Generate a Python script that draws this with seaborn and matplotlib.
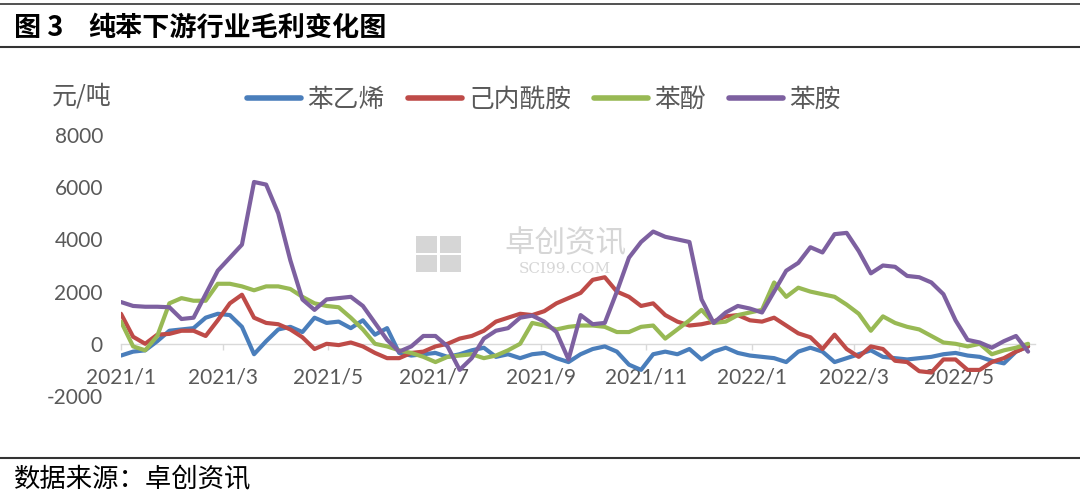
import numpy as np
import pandas as pd
import matplotlib
matplotlib.use("Agg")
import matplotlib.pyplot as plt
from matplotlib.lines import Line2D
from matplotlib.patches import Rectangle
import seaborn as sns

# ---------------- data (weekly readings, 元/吨) ----------------
dates = pd.date_range("2021-01-01", periods=76, freq="7D")

styrene = [-450, -300, -250, 100, 500, 550, 600, 1000, 1150, 1100,
           650, -400, 100, 550, 650, 450, 1000, 800, 850, 600,
           900, 350, 600, -350, -450, -400, -350, -500, -400, -250,
           -150, -500, -400, -550, -400, -350, -550, -700, -400, -200,
           -100, -300, -800, -1000, -400, -300, -400, -200, -600, -300,
           -150, -350, -450, -500, -550, -700, -300, -150, -300, -700,
           -550, -400, -250, -500, -550, -600, -550, -500, -400, -350,
           -450, -500, -650, -750, -300, -100]

caprolactam = [1150, 270, 0, 350, 380, 500, 500, 300, 900, 1550,
               1880, 1000, 800, 750, 550, 250, -200, 0, -50, 50,
               -100, -350, -550, -550, -350, -300, -100, 0, 200, 300,
               500, 850, 1000, 1150, 1100, 1250, 1550, 1750, 1950, 2450,
               2550, 2000, 1800, 1450, 1550, 1100, 850, 700, 750, 850,
               1050, 1100, 900, 850, 1000, 700, 400, 250, -200, 350,
               -200, -500, -100, -200, -650, -700, -1050, -1100, -600, -600,
               -1000, -1000, -700, -550, -300, -100]

phenol = [850, -100, -250, 300, 1550, 1750, 1650, 1650, 2300, 2300,
          2200, 2050, 2200, 2200, 2100, 1800, 1550, 1450, 1400, 1000,
          550, 0, -100, -250, -350, -500, -700, -500, -450, -400,
          -550, -450, -250, 0, 800, 700, 550, 650, 700, 700,
          650, 450, 450, 650, 700, 200, 550, 900, 1300, 800,
          850, 1100, 1200, 1300, 2350, 1800, 2150, 2000, 1900, 1800,
          1500, 1150, 500, 1050, 800, 650, 550, 300, 50, 0,
          -100, 0, -400, -250, -150, 0]

aniline = [1600, 1450, 1420, 1420, 1400, 950, 1000, 1900, 2800, 3300,
           3800, 6200, 6100, 5000, 3200, 1700, 1300, 1700, 1750, 1800,
           1450, 800, 150, -300, -100, 300, 300, -100, -1000, -550,
           200, 500, 600, 1000, 1080, 850, 450, -600, 1100, 750,
           800, 2000, 3300, 3900, 4300, 4100, 4000, 3900, 1700, 800,
           1200, 1450, 1350, 1200, 2000, 2800, 3100, 3700, 3500, 4200,
           4250, 3550, 2700, 3000, 2950, 2600, 2550, 2350, 1900, 900,
           150, 50, -150, 100, 300, -300]

series_names = ["苯乙烯", "己内酰胺", "苯酚", "苯胺"]
series_colors = ["#4A7EBB", "#BE4B48", "#98B954", "#7D60A0"]

y_ticks = [-2000, 0, 2000, 4000, 6000, 8000]
x_tick_dates = pd.to_datetime(["2021-01-01", "2021-03-01", "2021-05-01", "2021-07-01",
                               "2021-09-01", "2021-11-01", "2022-01-01", "2022-03-01",
                               "2022-05-01"])
x_tick_labels = ["2021/1", "2021/3", "2021/5", "2021/7", "2021/9",
                 "2021/11", "2022/1", "2022/3", "2022/5"]

title_no = "图 3"
title_text = "纯苯下游行业毛利变化图"
unit_text = "元/吨"
source_text = "数据来源：卓创资讯"

# ---------------- style ----------------
sns.set_theme(style="white")
plt.rcParams["font.family"] = ["Lato", "Noto Sans CJK SC", "DejaVu Sans"]
plt.rcParams["axes.unicode_minus"] = False

df = pd.concat([
    pd.DataFrame({"date": dates, "value": vals, "series": name})
    for name, vals in zip(series_names, [styrene, caprolactam, phenol, aniline])
], ignore_index=True)

W, H = 1080, 496
fig = plt.figure(figsize=(W / 100, H / 100), dpi=100)
fig.patch.set_facecolor("white")

ax_left, ax_right, ax_top, ax_bottom = 121, 1035, 135, 396
ax = fig.add_axes([ax_left / W, 1 - ax_bottom / H, (ax_right - ax_left) / W, (ax_bottom - ax_top) / H])
ax.set_facecolor("none")

sns.lineplot(data=df, x="date", y="value", hue="series", hue_order=series_names,
             palette=series_colors, linewidth=3.0, legend=False, ax=ax, zorder=3)
for ln in ax.get_lines():
    ln.set_solid_joinstyle("round")
    ln.set_solid_capstyle("round")

ax.set_ylim(-2000, 8000)
ax.set_xlim(pd.Timestamp("2021-01-01"), pd.Timestamp("2022-06-14"))
ax.set_xlabel("")
ax.set_ylabel("")
ax.grid(False)

for s in ["top", "right", "left"]:
    ax.spines[s].set_visible(False)
ax.spines["bottom"].set_position(("data", 0))
ax.spines["bottom"].set_color("#d9d9d9")
ax.spines["bottom"].set_linewidth(1.0)
ax.spines["bottom"].set_zorder(1)

ax.set_yticks(y_ticks)
ax.set_yticklabels([str(v) for v in y_ticks])
ax.set_xticks(x_tick_dates)
ax.set_xticklabels(x_tick_labels)
ax.tick_params(axis="y", length=0, pad=13, labelsize=15, labelcolor="#595959")
ax.tick_params(axis="x", direction="out", length=4, width=1, color="#d9d9d9",
               pad=13, labelsize=15, labelcolor="#595959", bottom=True)

# watermark (behind lines)
wm_color = "#d6d6d6"
ax.text(565 / W, 1 - 244 / H, "卓创资讯", transform=fig.transFigure, ha="center", va="center",
        fontsize=22, color=wm_color, family=["Noto Sans CJK SC"], zorder=0.5)
ax.text(565 / W, 1 - 269 / H, "SCI99.COM", transform=fig.transFigure, ha="center", va="center",
        fontsize=11, color=wm_color, family=["DejaVu Serif"], zorder=0.5)
for (x0, y0) in [(416, 236), (440, 236), (416, 255), (440, 255)]:
    ax.add_patch(Rectangle((x0 / W, 1 - (y0 + 17) / H), 21 / W, 17 / H, transform=fig.transFigure,
                           facecolor=wm_color, edgecolor="none", zorder=0.5, clip_on=False))

# unit label
fig.text(52 / W, 1 - 96 / H, unit_text, ha="left", va="center", fontsize=18,
         color="#595959", family=["Noto Sans CJK SC", "DejaVu Sans"])

# legend
handles = [Line2D([0], [0], color=c, lw=4, solid_capstyle="round") for c in series_colors]
leg = fig.legend(handles, series_names, loc="center", bbox_to_anchor=(544 / W, 1 - 100 / H),
                 ncol=4, frameon=False, handlelength=2.1, handletextpad=0.25, columnspacing=0.9,
                 prop={"family": ["Noto Sans CJK SC", "DejaVu Sans"], "size": 18.5})
for t in leg.get_texts():
    t.set_color("#595959")

# title block & rules
fig.add_artist(Line2D([0, 1], [1 - 4 / H, 1 - 4 / H], transform=fig.transFigure, color="#333333", lw=1.2))
fig.add_artist(Line2D([0, 1], [1 - 47 / H, 1 - 47 / H], transform=fig.transFigure, color="#333333", lw=1.5))
fig.text(14 / W, 1 - 28 / H, title_no, ha="left", va="center", fontsize=19.5, fontweight="bold",
         color="black", family=["Noto Sans CJK SC", "DejaVu Sans"])
fig.text(88 / W, 1 - 28 / H, title_text, ha="left", va="center", fontsize=19.5, fontweight="bold",
         color="black", family=["Noto Sans CJK SC", "DejaVu Sans"])

fig.add_artist(Line2D([0, 1], [1 - 458 / H, 1 - 458 / H], transform=fig.transFigure, color="#333333", lw=1.5))
fig.text(14 / W, 1 - 480 / H, source_text, ha="left", va="center", fontsize=19,
         color="black", family=["Noto Sans CJK SC", "DejaVu Sans"])

fig.savefig("out.png", dpi=100, facecolor="white")
